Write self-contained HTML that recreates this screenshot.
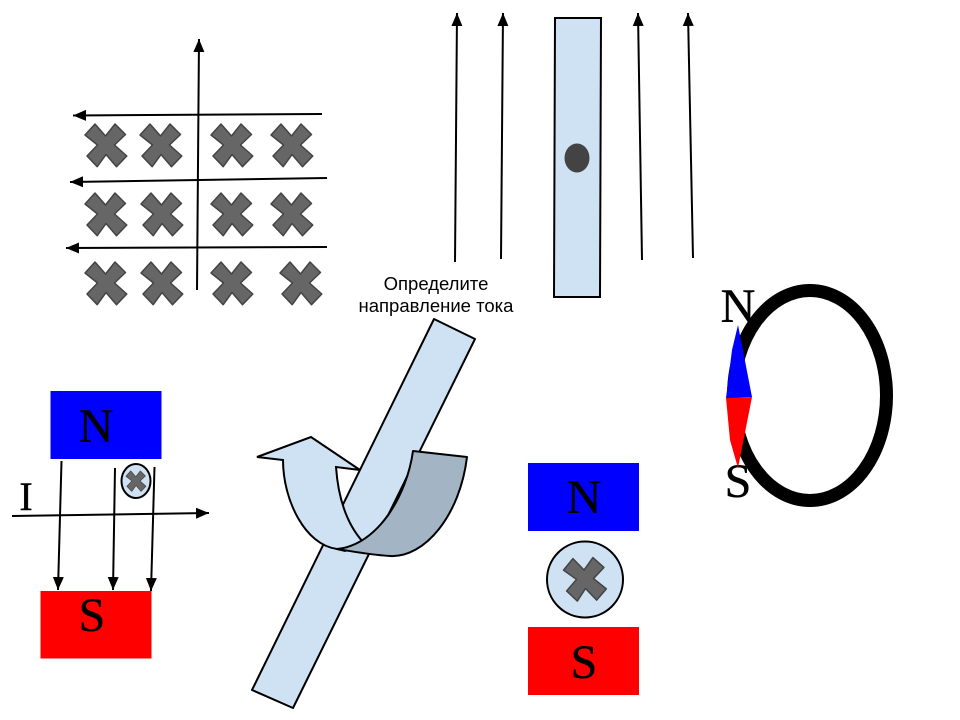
<!DOCTYPE html>
<html>
<head>
<meta charset="utf-8">
<style>
html,body{margin:0;padding:0;background:#fff}
svg{display:block}
.s{font-family:"Liberation Serif",serif;fill:#000;stroke:#000;stroke-width:.4;text-anchor:middle}
.l{stroke:#000;stroke-width:2;fill:none}
</style>
</head>
<body>
<svg width="960" height="720" viewBox="0 0 960 720" xmlns="http://www.w3.org/2000/svg">
<defs>
<marker id="a" markerUnits="userSpaceOnUse" markerWidth="14" markerHeight="14" refX="13" refY="6" orient="auto">
<path d="M0,0.5 L13,6 L0,11.5 Z" fill="#000"/>
</marker>
<polygon id="x" points="-11,-21 -0.5,-9 9,-21 19.5,-10.5 8.5,0 20.8,11 10.5,21.7 0,9.5 -8.8,21.7 -19,11 -8.5,0 -21,-10" fill="#666" stroke="#444" stroke-width="1.5" stroke-linejoin="round"/>
</defs>

<!-- crosses -->
<use href="#x" x="106" y="145"/><use href="#x" x="161" y="145"/><use href="#x" x="232" y="145"/><use href="#x" x="292" y="145"/>
<use href="#x" x="106" y="214"/><use href="#x" x="162" y="214"/><use href="#x" x="232" y="214"/><use href="#x" x="292" y="214"/>
<use href="#x" x="106" y="283"/><use href="#x" x="162" y="283"/><use href="#x" x="232" y="283"/><use href="#x" x="301" y="283"/>

<!-- grid arrows -->
<line class="l" x1="197" y1="290" x2="199" y2="39" marker-end="url(#a)"/>
<line class="l" x1="322" y1="114" x2="73" y2="115.5" marker-end="url(#a)"/>
<line class="l" x1="327" y1="178" x2="70" y2="182" marker-end="url(#a)"/>
<line class="l" x1="327" y1="247" x2="66" y2="248" marker-end="url(#a)"/>

<!-- field arrows with bar -->
<line class="l" x1="455" y1="262" x2="457" y2="13" marker-end="url(#a)"/>
<line class="l" x1="501" y1="259" x2="503" y2="13" marker-end="url(#a)"/>
<line class="l" x1="642" y1="260" x2="638" y2="13" marker-end="url(#a)"/>
<line class="l" x1="693" y1="258" x2="688" y2="13" marker-end="url(#a)"/>
<polygon points="555,18 601,18 600,297 554,297" fill="#cfe2f3" stroke="#000" stroke-width="2"/>
<ellipse cx="577" cy="158" rx="12.5" ry="14.5" fill="#434343"/>

<text x="436" y="290" font-family="'Liberation Sans',sans-serif" font-size="18.5" text-anchor="middle" fill="#000">Определите</text>
<text x="436" y="312" font-family="'Liberation Sans',sans-serif" font-size="18.5" text-anchor="middle" fill="#000">направление тока</text>

<!-- conductor with curved arrow -->
<polygon points="434,319 475,339 293,708 252,690" fill="#cfe2f3" stroke="#000" stroke-width="2" stroke-linejoin="round"/>
<path d="M257,457 L311,437 L360,470 L336,467 C338,495 345,522 363,542 L345,551 L337,549 C305,545 283,500 283,460 Z" fill="#cfe2f3" stroke="#000" stroke-width="2" stroke-linejoin="miter"/>
<path d="M413,451 L467,457 C460,515 425,558 390,556 C372,555 350,551 337,549 C378,545 407,495 413,451 Z" fill="#a3b5c5" stroke="#000" stroke-width="2" stroke-linejoin="round"/>
<path d="M407,476 Q398,497 388,516" fill="none" stroke="#000" stroke-width="1.5"/>

<!-- coil and compass -->
<ellipse cx="810" cy="395.5" rx="76.5" ry="105" fill="none" stroke="#000" stroke-width="13"/>
<text class="s" x="738" y="322" font-size="48">N</text>
<text class="s" x="738" y="497" font-size="48">S</text>
<polygon points="738,325 732,350 726,398 752,397" fill="#0000ff"/>
<polygon points="726,398 752,397 738,468 730,440" fill="#ff0000"/>

<!-- left magnets -->
<rect x="50.5" y="391" width="111" height="68" fill="#0000ff"/>
<rect x="40.5" y="591" width="111" height="67.5" fill="#ff0000"/>
<text class="s" x="96" y="442" font-size="48">N</text>
<text class="s" x="92" y="631" font-size="48">S</text>
<text class="s" x="26" y="510" font-size="40">I</text>
<line class="l" x1="61.5" y1="461" x2="58" y2="590" marker-end="url(#a)"/>
<line class="l" x1="115" y1="468" x2="113" y2="590" marker-end="url(#a)"/>
<line class="l" x1="154.5" y1="467" x2="151" y2="591" marker-end="url(#a)"/>
<line class="l" x1="12" y1="516" x2="209" y2="513" marker-end="url(#a)"/>
<ellipse cx="136" cy="481" rx="14.5" ry="17" fill="#cfe2f3" stroke="#000" stroke-width="2"/>
<use href="#x" transform="translate(136,481) scale(.48)"/>

<!-- bottom magnets -->
<rect x="528" y="463" width="111" height="68" fill="#0000ff"/>
<rect x="528" y="627" width="111" height="68" fill="#ff0000"/>
<text class="s" x="584" y="513" font-size="48">N</text>
<text class="s" x="584" y="678" font-size="48">S</text>
<circle cx="585" cy="579.5" r="38" fill="#cfe2f3" stroke="#000" stroke-width="2"/>
<use href="#x" transform="translate(585,579) rotate(-3)"/>
</svg>
</body>
</html>
